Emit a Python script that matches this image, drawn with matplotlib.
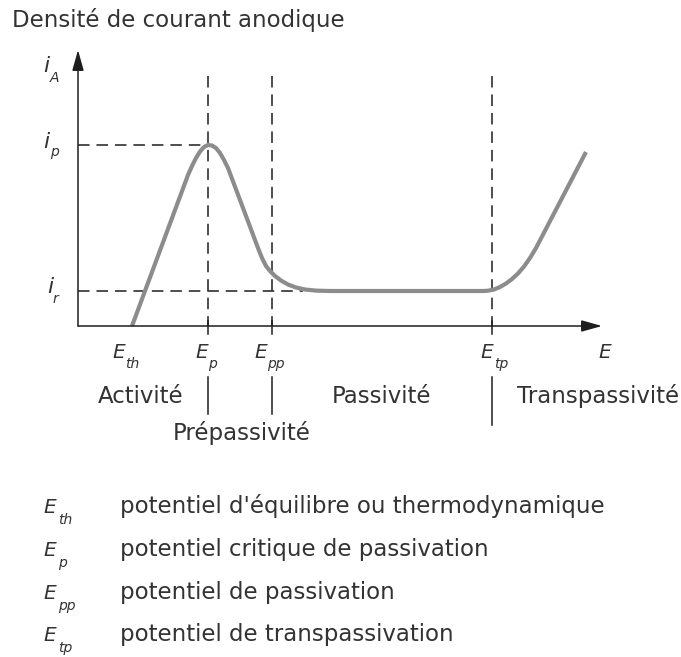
import matplotlib
matplotlib.use("Agg")
import matplotlib.pyplot as plt

E_th, E_p, E_pp, E_tp = 54, 130, 194, 414
i_p, i_r = 181, 35
E_max, i_max = 524, 276          # bouts des fleches des axes
i_haut = 250                      # haut des pointilles verticaux

courbe_E = [54, 110, 114, 118, 122, 126, 130, 134, 138, 142, 146, 150,
            180, 184, 188, 192, 197, 203, 210, 218, 227, 238, 252,
            405, 410, 416, 422, 428, 434, 440, 446, 452, 458, 508]
courbe_i = [0, 151, 160, 168, 174.5, 179, 181, 180.5, 178, 173, 166, 158,
            78, 68, 60, 55, 50, 45.5, 41.5, 38.5, 36.5, 35.4, 35,
            35, 35.3, 36.5, 39, 42.5, 47, 52.5, 59.5, 68, 78, 174]

potentiels = [E_th, E_p, E_pp, E_tp]
indices = ["th", "p", "pp", "tp"]
domaines = ["Activité", "Prépassivité", "Passivité", "Transpassivité"]
definitions = ["potentiel d'équilibre ou thermodynamique",
               "potentiel critique de passivation",
               "potentiel de passivation",
               "potentiel de transpassivation"]

plt.rcParams['lines.scale_dashes'] = False
encre = '#333333'
trait = '#1e1e1e'
tirets = (0, (8.3, 5))

fig = plt.figure(figsize=(6.81, 6.57), dpi=100)
ax = fig.add_axes([0, 0, 1, 1])
ax.set_xlim(-78, 603)
ax.set_ylim(-331, 326)
ax.axis('off')

# axes avec fleches
fleche = dict(arrowstyle='-|>,head_length=1.25,head_width=0.35', mutation_scale=10,
              lw=1.1, color=trait, shrinkA=0, shrinkB=0)
ax.annotate('', xy=(0, i_max), xytext=(0, 0), arrowprops=fleche)
ax.annotate('', xy=(E_max, 0), xytext=(0, 0), arrowprops=fleche)

# pointilles
for e in [E_p, E_pp, E_tp]:
    ax.plot([e, e], [i_haut, 0], color=trait, lw=1.1, ls=tirets)
    ax.plot([e, e], [5, -8], color=trait, lw=1.1)
ax.plot([0, E_p], [i_p, i_p], color=trait, lw=1.1, ls=tirets)
ax.plot([0, 225], [i_r, i_r], color=trait, lw=1.1, ls=tirets)

# courbe intensite-potentiel
ax.plot(courbe_E, courbe_i, color='#8c8c8c', lw=3, solid_capstyle='butt',
        solid_joinstyle='round')

it = dict(style='italic', color=encre, va='baseline', ha='left')

def symbole(x, y, lettre, indice, taille=14.5, dx=13, dy=10):
    ax.text(x, y, lettre, fontsize=taille, **it)
    ax.text(x + dx, y - dy, indice, fontsize=10, **it)

# titre et labels des axes
ax.text(-66, 299, "Densité de courant anodique", fontsize=16.5, color=encre,
        va='baseline', ha='left')
symbole(-35, 254, "i", "A", taille=16, dx=7)
symbole(-35, 178, "i", "p", taille=16, dx=7, dy=8)
symbole(-31, 33, "i", "r", taille=16, dx=6)

lettre_x = [34, 117, 176, 402]
indice_dx = [13, 13, 13, 14]
for x, ind, d in zip(lettre_x, indices, indice_dx):
    symbole(x, -32, "E", ind, dx=d)
ax.text(520, -32, "E", fontsize=14.5, **it)

# domaines
ax.text(20, -77, domaines[0], fontsize=16.5, color=encre, va='baseline', ha='left')
ax.text(95, -114, domaines[1], fontsize=16.5, color=encre, va='baseline', ha='left')
ax.text(303, -77, domaines[2], fontsize=16.5, color=encre, va='baseline', ha='center')
ax.text(439, -77, domaines[3], fontsize=16.5, color=encre, va='baseline', ha='left')
for e, bas in [(E_p, -88), (E_pp, -88), (E_tp, -99)]:
    ax.plot([e, e], [-51, bas], color=trait, lw=1.1)

# legende
lignes_y = [-187, -230, -273, -315]
for y, ind, txt in zip(lignes_y, indices, definitions):
    symbole(-35, y, "E", ind, dx=15, dy=11)
    ax.text(42, y, txt, fontsize=16.5, color=encre, va='baseline', ha='left')

fig.savefig("out.png", dpi=100, facecolor='white')
